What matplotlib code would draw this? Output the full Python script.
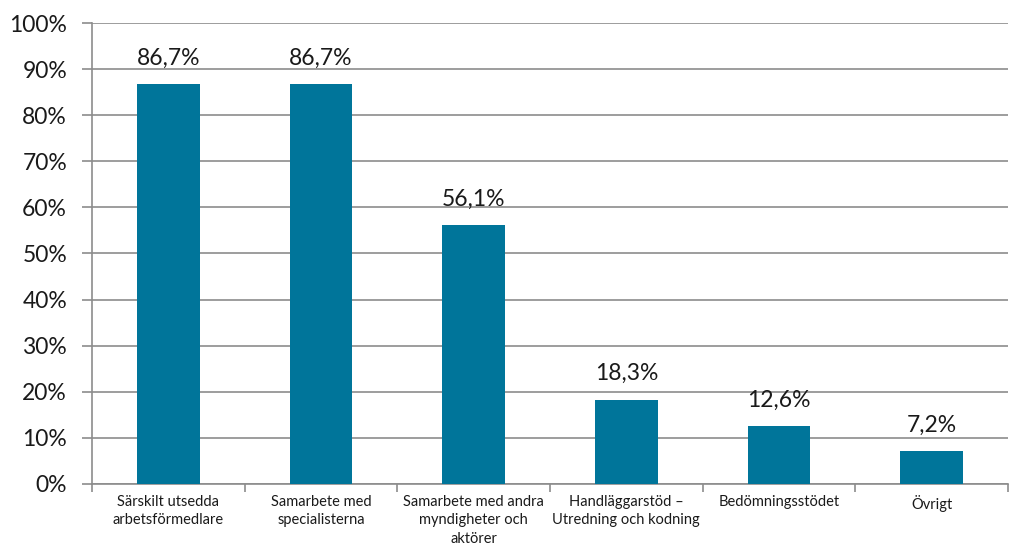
import numpy as np
import matplotlib
matplotlib.use('Agg')
import matplotlib.pyplot as plt

plt.rcParams['font.family'] = ['Lato', 'DejaVu Sans']

categories = ['Särskilt utsedda\narbetsförmedlare',
              'Samarbete med\nspecialisterna',
              'Samarbete med andra\nmyndigheter och\naktörer',
              'Handläggarstöd –\nUtredning och kodning',
              'Bedömningsstödet',
              'Övrigt']
values = [86.7, 86.7, 56.1, 18.3, 12.6, 7.2]
yticks = [0, 10, 20, 30, 40, 50, 60, 70, 80, 90, 100]

bar_color = '#00759a'
grid_color = '#8c8c8c'

fig = plt.figure(figsize=(10.12, 5.48), dpi=100)
ax = fig.add_axes([0.091, 0.117, 0.905, 0.841])

x = np.arange(len(categories))
ax.bar(x, values, width=0.41, color=bar_color, zorder=3)

for xi, v in zip(x, values):
    ax.text(xi, v + 3.3, f'{v:.1f}%'.replace('.', ','), ha='center', va='bottom',
            fontsize=16.5, color='#1a1a1a')

ax.set_xlim(-0.5, len(categories) - 0.5)
ax.set_ylim(0, 100)
ax.set_yticks(yticks)
ax.set_yticklabels([f'{t}%' for t in yticks], fontsize=16.5, color='#1a1a1a')
ax.yaxis.grid(True, color=grid_color, linewidth=1.2, zorder=0)
ax.tick_params(axis='y', length=7, color=grid_color, width=1.2, pad=11)

ax.set_xticks(x)
ax.set_xticklabels(categories, fontsize=10.5, color='#1a1a1a', linespacing=1.4)
ax.tick_params(axis='x', length=0, pad=8)
ax.set_xticks(np.arange(len(categories) + 1) - 0.5, minor=True)
ax.tick_params(axis='x', which='minor', length=6, color=grid_color, width=1.2)

for s in ['top', 'right']:
    ax.spines[s].set_visible(False)
for s in ['left', 'bottom']:
    ax.spines[s].set_color(grid_color)
    ax.spines[s].set_linewidth(1.2)

fig.savefig('out.png', dpi=100)
